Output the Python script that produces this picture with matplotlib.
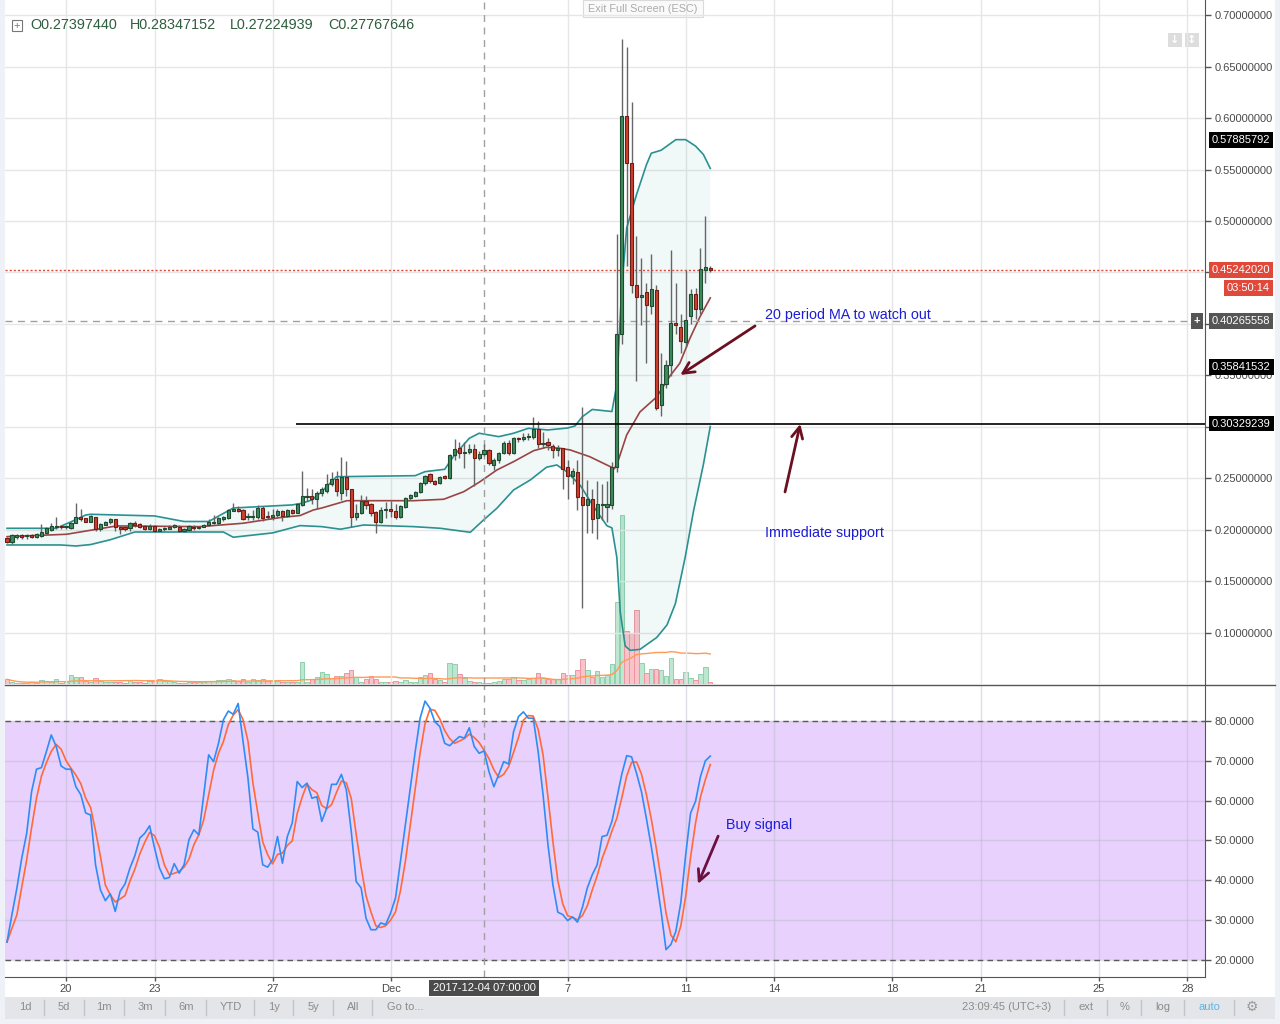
import matplotlib
matplotlib.use('Agg')
import matplotlib.pyplot as plt
import numpy as np
import pandas as pd
from matplotlib.patches import Rectangle
from matplotlib.lines import Line2D
from matplotlib.transforms import blended_transform_factory

plt.rcParams['font.family'] = ['Liberation Sans', 'DejaVu Sans']

# ---------------- data (4h candles from 18 Nov 2017) ----------------
opens = [0.1919,0.1887,0.1929,0.1951,0.1945,0.1951,0.1935,0.1941,0.1967,0.2000,
         0.2032,0.2039,0.2030,0.2023,0.2071,0.2129,0.2113,0.2081,0.2123,0.2006,
         0.2052,0.2077,0.2103,0.2032,0.2029,0.2023,0.2071,0.2055,0.2039,0.2006,
         0.2039,0.1993,0.2006,0.2013,0.2026,0.2032,0.1987,0.2000,0.2032,0.2020,
         0.2032,0.2045,0.2071,0.2065,0.2103,0.2113,0.2188,0.2204,0.2194,0.2123,
         0.2123,0.2123,0.2210,0.2125,0.2129,0.2145,0.2184,0.2139,0.2194,0.2168,
         0.2239,0.2323,0.2330,0.2304,0.2355,0.2381,0.2446,0.2495,0.2362,0.2511,
         0.2394,0.2122,0.2161,0.2284,0.2249,0.2171,0.2080,0.2198,0.2200,0.2184,
         0.2129,0.2226,0.2307,0.2333,0.2372,0.2453,0.2540,0.2475,0.2453,0.2521,
         0.2501,0.2728,0.2799,0.2750,0.2754,0.2783,0.2695,0.27397440,0.2776,0.2627,
         0.2679,0.2750,0.2847,0.2750,0.2893,0.2880,0.2898,0.2899,0.2977,0.2835,
         0.2854,0.2818,0.2776,0.2792,0.2608,0.2524,0.2559,0.2317,0.2242,0.2300,
         0.2113,0.2239,0.2226,0.2246,0.2615,0.3905,0.6023,0.5564,0.4376,0.4262,
         0.4307,0.4172,0.4327,0.3209,0.3414,0.3598,0.4008,0.3967,0.3823,0.4081,
         0.4290,0.4143,0.4528,0.4544]
highs = [0.1930,0.1960,0.1965,0.1965,0.1965,0.1965,0.1970,0.2058,0.2030,0.2071,
         0.2123,0.2050,0.2045,0.2080,0.2259,0.2200,0.2120,0.2145,0.2130,0.2070,
         0.2090,0.2115,0.2110,0.2040,0.2040,0.2080,0.2090,0.2065,0.2050,0.2060,
         0.2050,0.2020,0.2030,0.2045,0.2060,0.2045,0.2015,0.2050,0.2045,0.2035,
         0.2060,0.2110,0.2145,0.2130,0.2140,0.2204,0.2259,0.2230,0.2200,0.2165,
         0.2190,0.2240,0.2230,0.2180,0.2200,0.2200,0.2195,0.2205,0.2205,0.2260,
         0.2576,0.2404,0.2395,0.2380,0.2420,0.2540,0.2560,0.2570,0.2711,0.2669,
         0.2394,0.2250,0.2339,0.2330,0.2260,0.2180,0.2220,0.2270,0.2280,0.2250,
         0.2245,0.2320,0.2350,0.2380,0.2470,0.2535,0.2550,0.2485,0.2525,0.2530,
         0.2741,0.2880,0.2850,0.2850,0.2830,0.2830,0.2770,0.28347152,0.2790,0.2700,
         0.2760,0.2860,0.2870,0.2900,0.2900,0.2940,0.2940,0.3100,0.3060,0.2950,
         0.2890,0.2830,0.2820,0.2800,0.2679,0.2600,0.2680,0.3191,0.2485,0.2400,
         0.2480,0.2450,0.2480,0.2660,0.4876,0.6765,0.6691,0.6159,0.4856,0.4643,
         0.4397,0.4684,0.4376,0.3721,0.3650,0.4716,0.4400,0.4100,0.4528,0.4340,
         0.4350,0.4737,0.5044,0.4560]
lows = [0.1870,0.1864,0.1915,0.1910,0.1915,0.1920,0.1925,0.1930,0.1960,0.1990,
        0.2010,0.2005,0.2010,0.2005,0.2065,0.2090,0.2075,0.2075,0.1990,0.1990,
        0.2045,0.2060,0.1990,0.1960,0.1985,0.1990,0.2030,0.2020,0.2000,0.2000,
        0.1980,0.1985,0.1990,0.2005,0.2015,0.1980,0.1980,0.1990,0.2000,0.2005,
        0.2025,0.2035,0.2060,0.2050,0.2090,0.2105,0.2180,0.2175,0.2100,0.2100,
        0.2100,0.2110,0.2090,0.2110,0.2100,0.2130,0.2090,0.2130,0.2150,0.2160,
        0.2230,0.2280,0.2250,0.2200,0.2330,0.2360,0.2430,0.2330,0.2290,0.2330,
        0.2032,0.2100,0.2150,0.2200,0.2140,0.1973,0.2070,0.2120,0.2130,0.2110,
        0.2120,0.2210,0.2290,0.2320,0.2360,0.2440,0.2460,0.2440,0.2445,0.2490,
        0.2490,0.2680,0.2700,0.2600,0.2740,0.2427,0.2680,0.27224939,0.2630,0.2580,
        0.2650,0.2740,0.2730,0.2740,0.2850,0.2860,0.2870,0.2880,0.2800,0.2800,
        0.2780,0.2700,0.2720,0.2400,0.2300,0.2450,0.2194,0.1239,0.1967,0.1970,
        0.1909,0.2100,0.2080,0.2200,0.2560,0.3803,0.4561,0.4300,0.3446,0.3987,
        0.3618,0.4100,0.3168,0.3106,0.3380,0.3496,0.3900,0.3720,0.3780,0.4000,
        0.4050,0.4100,0.4400,0.4500]
closes = [0.1887,0.1951,0.1951,0.1929,0.1947,0.1935,0.1961,0.1984,0.2016,0.2039,
          0.2035,0.2026,0.2032,0.2071,0.2129,0.2110,0.2081,0.2136,0.2006,0.2055,
          0.2077,0.2103,0.2032,0.2013,0.2013,0.2065,0.2045,0.2032,0.2013,0.2039,
          0.1987,0.2010,0.2019,0.2032,0.2045,0.1987,0.2006,0.2039,0.2016,0.2023,
          0.2048,0.2081,0.2073,0.2113,0.2129,0.2194,0.2200,0.2188,0.2110,0.2125,
          0.2126,0.2210,0.2120,0.2123,0.2142,0.2184,0.2139,0.2194,0.2162,0.2249,
          0.2330,0.2325,0.2304,0.2362,0.2398,0.2446,0.2495,0.2378,0.2517,0.2394,
          0.2122,0.2161,0.2284,0.2245,0.2168,0.2080,0.2194,0.2200,0.2181,0.2129,
          0.2232,0.2307,0.2339,0.2365,0.2453,0.2527,0.2475,0.2449,0.2517,0.2501,
          0.2724,0.2783,0.2744,0.2752,0.2783,0.2695,0.2734,0.27767646,0.2647,0.2679,
          0.2744,0.2841,0.2750,0.2890,0.2880,0.2903,0.2900,0.2977,0.2831,0.2847,
          0.2822,0.2776,0.2796,0.2589,0.2527,0.2576,0.2317,0.2242,0.2300,0.2103,
          0.2249,0.2242,0.2252,0.2615,0.3905,0.6015,0.5564,0.4376,0.4262,0.4282,
          0.4184,0.4339,0.3188,0.3414,0.3598,0.4008,0.3987,0.3831,0.4036,0.4290,
          0.4143,0.4536,0.4553,0.45242020]
volumes = [4.7,2.3,0.7,0.7,0.7,2.3,0.7,4.0,3.3,2.3,4.7,1.3,2.3,9.0,6.7,6.7,3.3,2.0,5.7,3.0,
           2.0,1.7,2.0,2.0,1.3,4.0,2.3,2.0,1.3,3.0,3.0,4.7,3.0,2.7,2.0,1.3,1.3,2.0,2.0,2.0,
           2.3,3.0,3.0,4.0,4.0,4.7,4.0,3.0,4.7,2.3,4.7,4.0,4.7,2.7,3.3,3.3,2.3,2.3,1.7,2.3,
           22.0,2.3,4.7,7.3,11.7,9.7,5.7,8.0,8.0,10.7,13.7,7.3,2.3,5.0,8.0,5.0,2.3,1.7,1.7,3.0,
           2.3,3.7,2.3,2.3,7.3,8.7,10.7,5.0,4.0,2.3,21.3,20.0,9.7,5.7,3.0,1.7,2.3,0.7,1.3,2.3,
           3.0,4.7,4.7,7.3,4.0,4.0,5.0,5.7,10.7,6.3,5.0,5.0,5.0,10.7,9.0,9.3,14.0,25.0,14.0,7.0,
           13.0,7.3,9.5,20.0,82.0,169.0,52.7,50.6,73.8,21.0,11.4,14.8,14.8,14.0,7.6,26.0,5.0,5.0,11.8,6.3,
           4.2,10.5,16.9,2.0]
stoch_k = [24.5,31.4,38.0,45.6,51.8,62.3,67.9,68.3,72.3,76.5,73.6,68.7,67.9,67.9,63.5,61.5,56.9,56.4,43.9,37.6,
           34.9,36.6,32.2,37.2,39.1,43.1,46.2,50.6,51.8,53.7,48.1,43.1,40.4,40.7,44.2,41.8,43.9,50.2,52.7,51.4,
           61.5,71.5,69.8,74.4,80.3,82.5,81.7,84.4,74.8,65.6,52.9,52.1,43.9,43.3,45.2,51.0,44.3,51.0,54.4,64.8,
           63.3,64.4,60.6,61.0,54.8,58.1,64.1,64.1,66.6,62.7,52.3,39.7,38.1,30.5,27.6,27.6,29.3,28.9,31.8,35.6,
           44.7,53.9,63.1,72.3,80.7,85.0,83.2,79.8,78.6,74.4,73.8,75.0,76.1,75.7,78.3,73.6,71.9,72.5,67.3,63.5,
           66.6,69.8,69.2,77.3,81.1,82.3,80.7,80.7,72.3,61.5,48.9,38.9,32.0,31.4,29.9,30.8,29.5,33.2,38.1,41.4,
           43.9,51.0,51.3,54.8,60.6,66.6,71.3,71.0,66.9,62.3,55.6,48.5,40.6,32.2,22.6,23.9,27.2,34.3,46.4,56.9,
           59.8,66.0,70.0,71.2]

# Bollinger band (20) / MA20, at candle positions
bb_upper_n = [0,10,12,14,16,17,30,36,41,46,54,58,60,62,64,67,83,85,89,91,94,96,100,103,106,110,114,
              115.5,117,119,123,124,125,126,128,130,131,133,136,138,140,141.6,143]
bb_upper_v = [0.2016,0.2016,0.2058,0.2100,0.2145,0.2152,0.2136,0.2082,0.2082,0.2213,0.2233,0.2243,
              0.2260,0.2291,0.2372,0.2517,0.2527,0.2566,0.2589,0.2728,0.2890,0.2939,0.2906,0.2939,
              0.2987,0.2971,0.2990,0.3010,0.3100,0.3170,0.3150,0.3413,0.4355,0.4932,0.5256,0.5544,
              0.5658,0.5687,0.5790,0.5790,0.5728,0.5646,0.5511]
bb_lower_n = [0,11,14,17,21,26,44,46,54,59.6,64,67.8,72.5,82.7,88.1,94.2,96.9,99.6,103,106.4,109.7,
              111.8,113.8,116.6,119.3,122,123,124,124.7,125.7,126.7,128.7,132.1,134.2,135.9,137.9,
              139.6,141.6,143]
bb_lower_v = [0.1854,0.1854,0.1844,0.1858,0.1905,0.1980,0.1980,0.1929,0.1971,0.2042,0.2032,0.2007,
              0.2048,0.2032,0.2016,0.1977,0.2097,0.2210,0.2388,0.2485,0.2609,0.2631,0.2566,0.2430,
              0.2225,0.2040,0.2020,0.1734,0.1201,0.0873,0.0831,0.0840,0.0955,0.1077,0.1283,0.1734,
              0.2184,0.2635,0.3004]
ma20_n = [0,12.1,22.3,39.2,48,55.5,59.6,62.3,64,69.1,82.7,88.8,92.9,96.2,99.6,103,107.1,109.7,112.4,
          114.5,118.5,122.7,123.5,124.3,126,128.7,132.1,134.8,136.8,138.9,140.9,143]
ma20_v = [0.1935,0.1958,0.2039,0.2032,0.2065,0.2120,0.2140,0.2194,0.2213,0.2284,0.2284,0.2298,0.2372,
          0.2469,0.2582,0.2663,0.2770,0.2803,0.2793,0.2777,0.2711,0.2614,0.2594,0.2676,0.2922,0.3146,
          0.3291,0.3495,0.3618,0.3864,0.4069,0.4253]

day_offsets = [2, 5, 9, 13, 19, 23, 26, 30, 33, 37, 40]      # days after 18 Nov 2017
day_labels = ['20', '23', '27', 'Dec', '7', '11', '14', '18', '21', '25', '28']
candles_per_day = 6

price_ticks = [0.10, 0.15, 0.20, 0.25, 0.30, 0.35, 0.40, 0.45, 0.50, 0.55, 0.60, 0.65, 0.70]
hidden_price_ticks = [0.30, 0.40, 0.45]   # covered by the price labels in the reference
osc_ticks = [20, 30, 40, 50, 60, 70, 80]

support_level = 0.30329239
last_price = 0.45242020
cross_price = 0.40265558
cross_candle = 97
upper_label = 0.57885792
other_label = 0.35841532

# ---------------- figure ----------------
W, H = 1280, 1024
fig = plt.figure(figsize=(W / 100, H / 100), dpi=100, facecolor='#EEF1F5')
AXFS = 8.0


def px_axes(l, t, w, h, **kw):
    return fig.add_axes([l / W, 1 - (t + h) / H, w / W, h / H], **kw)


def fx(x):
    return x / W


def fy(y):
    return 1 - y / H


fig.add_artist(Rectangle((fx(5), fy(997)), 1270 / W, 997 / H, transform=fig.transFigure,
                         facecolor='white', edgecolor='none', zorder=-5))

o = np.array(opens); h = np.array(highs); l = np.array(lows); c = np.array(closes)
v = np.array(volumes)
n = np.arange(len(c))
up = c >= o
XL = (-0.41, 243.6)
xt = [d * candles_per_day for d in day_offsets]

# volume axis (behind)
axv = px_axes(5, 0, 1200, 684)
axv.set_zorder(1)
axv.set_xlim(*XL)
axv.set_ylim(0, 684)
axv.axis('off')
axv.patch.set_visible(False)
axv.bar(n[up], v[up], width=0.9, color='#BFE6D1', edgecolor='#8FD0AE', lw=0.7)
axv.bar(n[~up], v[~up], width=0.9, color='#F8C4CA', edgecolor='#EE95A2', lw=0.7)
vma = pd.Series(v).rolling(20, min_periods=1).mean()
axv.plot(n, vma, color='#FF9A55', lw=1.0)

# main price axis
ax = px_axes(5, 0, 1200, 684)
ax.set_zorder(2)
ax.patch.set_visible(False)
ax.set_xlim(*XL)
ax.set_ylim(0.0504, 0.7146)
for s in ['top', 'left', 'bottom']:
    ax.spines[s].set_visible(False)
ax.spines['right'].set_color('#555555')
ax.yaxis.tick_right()
ax.set_yticks(price_ticks)
ax.set_yticklabels(['' if any(abs(p - q) < 1e-9 for q in hidden_price_ticks) else f'{p:.8f}'
                    for p in price_ticks])
ax.tick_params(axis='y', length=4, width=1, color='#555555', pad=3, labelsize=AXFS, labelcolor='#4A4A4A')
ax.set_xticks(xt)
ax.tick_params(axis='x', length=0, labelbottom=False)
ax.grid(True, color='#E6E6E6', lw=1, zorder=0)
ax.set_axisbelow(True)

# bollinger fill + lines
poly_x = list(bb_upper_n) + list(bb_lower_n[::-1])
poly_y = list(bb_upper_v) + list(bb_lower_v[::-1])
ax.fill(poly_x, poly_y, color='#1E8C8C', alpha=0.06, lw=0, zorder=1)
ax.plot(bb_upper_n, bb_upper_v, color='#2A9191', lw=1.2, zorder=2)
ax.plot(bb_lower_n, bb_lower_v, color='#2A9191', lw=1.2, zorder=2)
ax.plot(ma20_n, ma20_v, color='#9A4444', lw=1.2, zorder=2)

# candles
ax.vlines(n, l, h, color='#666666', lw=1, zorder=3)
bb = np.minimum(o, c)
bh = np.maximum(np.abs(c - o), 0.0010)
ax.bar(n[up], bh[up], bottom=bb[up], width=0.64, color='#3D8B5C', edgecolor='#1E4B30', lw=0.8, zorder=4)
ax.bar(n[~up], bh[~up], bottom=bb[~up], width=0.64, color='#CF3F2E', edgecolor='#6E1C14', lw=0.8, zorder=4)

# lines
ax.axhline(last_price, color='#E0483A', ls=(0, (1.5, 1.5)), lw=1, zorder=2)
ax.axhline(cross_price, color='#A0A0A0', ls=(0, (5, 4)), lw=1, zorder=2)
ax.axvline(cross_candle, color='#A0A0A0', ls=(0, (5, 4)), lw=1, zorder=2)
ax.hlines(support_level, 58.8, XL[1], color='black', lw=1.2, zorder=5)

# axis price labels
bt = blended_transform_factory(ax.transAxes, ax.transData)


def axis_label(val, text, fc):
    ax.text(1.0 + 7 / 1200, val, text, transform=bt, ha='left', va='center', fontsize=AXFS,
            color='white', zorder=10, clip_on=False,
            bbox=dict(boxstyle='square,pad=0.25', fc=fc, ec='none'))


axis_label(upper_label, f'{upper_label:.8f}', 'black')
axis_label(last_price, f'{last_price:.8f}', '#E0483A')
axis_label(cross_price, f'{cross_price:.8f}', '#555555')
axis_label(other_label, f'{other_label:.8f}', 'black')
axis_label(support_level, f'{support_level:.8f}', 'black')
ax.text((1270 - 5) / 1200, last_price - 0.0175, '03:50:14', transform=bt, ha='right', va='center',
        fontsize=AXFS, color='white', clip_on=False,
        bbox=dict(boxstyle='square,pad=0.25', fc='#E0483A', ec='none'))
ax.text((1197 - 5) / 1200, cross_price, '+', transform=bt, ha='center', va='center',
        fontsize=8, color='white', clip_on=False, fontweight='bold',
        bbox=dict(boxstyle='square,pad=0.25', fc='#555555', ec='none'))

# annotations
arrow_red = dict(arrowstyle='->', color='#6B1020', lw=2, mutation_scale=20, shrinkA=0, shrinkB=0)
ax.annotate('', xy=(136.9, 0.3505), xytext=(152.1, 0.3981), arrowprops=arrow_red, zorder=6)
ax.annotate('', xy=(161.3, 0.3029), xytext=(158.2, 0.2369), arrowprops=arrow_red, zorder=6)
ax.text(154.2, 0.4087, '20 period MA to watch out', color='#1C1CD6', fontsize=10.3, va='center', ha='left')
ax.text(154.2, 0.1971, 'Immediate support', color='#1C1CD6', fontsize=10.3, va='center', ha='left')

# oscillator panel
axo = px_axes(5, 685, 1200, 292)
axo.set_xlim(*XL)
axo.set_ylim(15.73, 89.04)
axo.set_facecolor('none')
for s in ['top', 'left']:
    axo.spines[s].set_visible(False)
axo.spines['right'].set_color('#555555')
axo.spines['bottom'].set_color('#555555')
axo.axhspan(20, 80, color='#E9D1FD', lw=0, zorder=0)
axo.yaxis.tick_right()
axo.set_yticks(osc_ticks)
axo.set_yticklabels([f'{t:.4f}' for t in osc_ticks])
axo.tick_params(axis='y', length=4, width=1, color='#555555', pad=3, labelsize=AXFS, labelcolor='#4A4A4A')
axo.set_xticks(xt)
axo.set_xticklabels(day_labels)
axo.tick_params(axis='x', length=3, width=1, color='#555555', pad=2, labelsize=AXFS, labelcolor='#4A4A4A')
axo.grid(True, color='#B8B8C8', alpha=0.45, lw=1, zorder=0.5)
axo.set_axisbelow(True)
axo.axhline(80, color='#5A5A5A', ls=(0, (4, 3)), lw=1, zorder=1)
axo.axhline(20, color='#5A5A5A', ls=(0, (4, 3)), lw=1, zorder=1)
k = pd.Series(stoch_k)
d = k.rolling(3, min_periods=1).mean()
axo.plot(n, d, color='#FF6A3A', lw=1.2, zorder=3)
axo.plot(n, k, color='#2F8CF5', lw=1.2, zorder=4)
axo.axvline(cross_candle, color='#A0A0A0', ls=(0, (5, 4)), lw=1, zorder=2)
axo.annotate('', xy=(140.5, 39.1), xytext=(144.6, 51.1),
             arrowprops=dict(arrowstyle='->', color='#6B1040', lw=2, mutation_scale=20, shrinkA=0, shrinkB=0))
axo.text(146.2, 53.9, 'Buy signal', color='#1C1CD6', fontsize=10.3, va='center', ha='left')

# separator line between panels
fig.add_artist(Line2D([fx(5), fx(1275)], [fy(684.5), fy(684.5)], transform=fig.transFigure,
                      color='#555555', lw=1))

# crosshair date label
fig.text(fx(484), fy(988), '2017-12-04 07:00:00', ha='center', va='center', fontsize=AXFS, color='white',
         bbox=dict(boxstyle='square,pad=0.3', fc='#4B4B4B', ec='none'))

# header OHLC
fig.add_artist(Rectangle((fx(12), fy(31)), 10 / W, 11 / H, transform=fig.transFigure,
                         facecolor='white', edgecolor='#777777', lw=0.8))
fig.text(fx(17), fy(25.5), '+', ha='center', va='center', fontsize=8, color='#777777')
for xp, s in [(30, 'O0.27397440'), (130, 'H0.28347152'), (230, 'L0.27224939'), (328, 'C0.27767646')]:
    fig.text(fx(xp), fy(25), s, ha='left', va='center', fontsize=10.4, color='#2E5E3E')

# exit full screen button
fig.add_artist(Rectangle((fx(583), fy(17)), 120 / W, 17 / H, transform=fig.transFigure,
                         facecolor='#FAFAFA', edgecolor='#DADADA', lw=0.8))
fig.text(fx(643), fy(9), 'Exit Full Screen (ESC)', ha='center', va='center', fontsize=7.8, color='#ABABAB')

# top right small icons
for xp, s in [(1168, '↓'), (1185, '↕')]:
    fig.add_artist(Rectangle((fx(xp), fy(47)), 14 / W, 14 / H, transform=fig.transFigure,
                             facecolor='#DDDDDD', edgecolor='none'))
    fig.text(fx(xp + 7), fy(40), s, ha='center', va='center', fontsize=8, color='white',
             fontweight='bold', family='DejaVu Sans')

# bottom toolbar
fig.add_artist(Rectangle((fx(5), fy(1019)), 1270 / W, 22 / H, transform=fig.transFigure,
                         facecolor='#E3E5E8', edgecolor='none'))
tb = '#8C8C8C'
for xp, s in [(25, '1d'), (64, '5d'), (104, '1m'), (145, '3m'), (186, '6m'), (231, 'YTD'),
              (274, '1y'), (313, '5y'), (353, 'All'), (405, 'Go to...'),
              (1007, '23:09:45 (UTC+3)'), (1086, 'ext'), (1125, '%'), (1163, 'log')]:
    fig.text(fx(xp), fy(1007), s, ha='center', va='center', fontsize=8, color=tb)
fig.text(fx(1209), fy(1007), 'auto', ha='center', va='center', fontsize=8, color='#5AB4E6')
fig.text(fx(1252), fy(1007), '⚙', ha='center', va='center', fontsize=10, color='#9A9A9A', family='DejaVu Sans')
for xp in [44, 84, 124, 165, 206, 254, 293, 333, 372, 1064, 1107, 1141, 1184, 1234]:
    fig.add_artist(Line2D([fx(xp), fx(xp)], [fy(1000), fy(1015)], transform=fig.transFigure,
                          color='#C2C4C8', lw=1))

fig.savefig('out.png', dpi=100, facecolor=fig.get_facecolor())
